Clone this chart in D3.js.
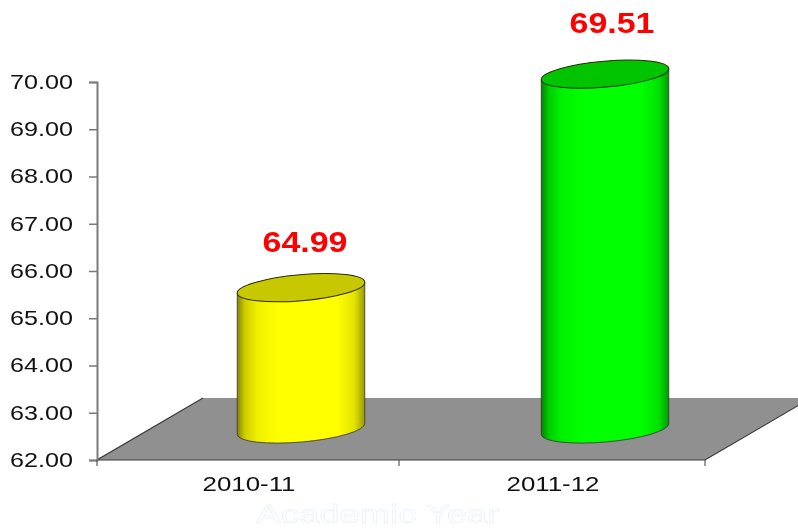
<!DOCTYPE html>
<html>
<head>
<meta charset="utf-8">
<script src="https://cdn.jsdelivr.net/npm/d3@7"></script>
<style>
  html, body { margin: 0; padding: 0; background: #fff; }
  svg { display: block; filter: blur(0.4px); }
</style>
</head>
<body>
<div id="chart"></div>
<script>
const years = ["2010-11", "2011-12"]
const values = [64.99, 69.51]
const bodyColours = ["#ffff00", "#00ff00"]
const edgeColours = ["#6f6f00", "#006f00"]
const topColours = ["#c8c800", "#00c400"]
const yTicks = [62, 63, 64, 65, 66, 67, 68, 69, 70]
const axisTitle = "Academic Year"

const width = 798
const height = 529
const plot = { left: 97, right: 705, top: 82, bottom: 460 }
// floor depth, the cylinders stand half way back on it
const depth = { x: 106, y: 62 }
const cyl = { rx: 64, ry: 13, tilt: 5 }
// value labels sit a little unevenly in the original
const labelNudge = [{ dx: 4, dy: -36 }, { dx: 7, dy: -41 }]

const svg = d3.select("#chart")
    .append("svg")
    .attr("width", width)
    .attr("height", height)
    .attr("viewBox", "0 0 " + width + " " + height)
    .style("font-family", "'Liberation Sans', Arial, sans-serif")

const x = d3.scaleBand().domain(years).range([plot.left, plot.right])
const y = d3.scaleLinear().domain([62, 70]).range([plot.bottom, plot.top])

const defs = svg.append("defs")
years.forEach((yr, i) => {
    const mix = d3.interpolateRgb(edgeColours[i], bodyColours[i])
    const grad = defs.append("linearGradient")
        .attr("id", "body" + i)
        .attr("x1", 0).attr("x2", 1).attr("y1", 0).attr("y2", 0)
    grad.append("stop").attr("offset", 0).attr("stop-color", mix(0.15))
    grad.append("stop").attr("offset", 0.06).attr("stop-color", mix(0.65))
    grad.append("stop").attr("offset", 0.16).attr("stop-color", mix(0.9))
    grad.append("stop").attr("offset", 0.32).attr("stop-color", bodyColours[i])
    grad.append("stop").attr("offset", 0.78).attr("stop-color", bodyColours[i])
    grad.append("stop").attr("offset", 0.92).attr("stop-color", mix(0.8))
    grad.append("stop").attr("offset", 1).attr("stop-color", mix(0.3))
})

// floor
const floor = d3.path()
floor.moveTo(plot.left, plot.bottom)
floor.lineTo(plot.left + depth.x, plot.bottom - depth.y)
floor.lineTo(plot.right + depth.x, plot.bottom - depth.y)
floor.lineTo(plot.right, plot.bottom)
floor.closePath()
svg.append("path").attr("d", floor.toString()).attr("fill", "#909090")

svg.append("path")
    .attr("d", d3.line()([
        [plot.left + depth.x, plot.bottom - depth.y],
        [plot.left, plot.bottom],
        [plot.right, plot.bottom],
        [plot.right + depth.x, plot.bottom - depth.y],
    ]))
    .attr("fill", "none")
    .attr("stroke", "#3a3a3a")
    .attr("stroke-width", 1.2)

// axes
const yAxis = svg.append("g")
    .attr("transform", "translate(" + plot.left + ",0)")
    .call(d3.axisLeft(y).tickValues(yTicks).tickFormat(d3.format(".2f")).tickSize(8).tickPadding(24))
yAxis.select(".domain").attr("stroke", "#7a7a7a").attr("stroke-width", 2)
yAxis.selectAll(".tick line").attr("stroke", "#7a7a7a").attr("stroke-width", 1.5)
yAxis.selectAll("text")
    .attr("font-size", 21)
    .attr("fill", "#111")
    .attr("text-anchor", "start")
    .attr("x", -87)
    .attr("dy", "0.3em")
    .attr("textLength", 63)
    .attr("lengthAdjust", "spacingAndGlyphs")

const xAxis = svg.append("g")
    .attr("transform", "translate(0," + plot.bottom + ")")
    .call(d3.axisBottom(x).tickFormat((d) => d).tickSize(0).tickPadding(16))
xAxis.select(".domain").remove()
xAxis.selectAll("text")
    .attr("font-size", 21)
    .attr("fill", "#111")
    .attr("textLength", 93)
    .attr("lengthAdjust", "spacingAndGlyphs")

svg.append("g")
    .selectAll("line")
    .data([plot.left, (plot.left + plot.right) / 2 - 2, plot.right])
    .enter()
    .append("line")
    .attr("x1", (d) => d)
    .attr("x2", (d) => d)
    .attr("y1", plot.bottom)
    .attr("y2", plot.bottom + 6)
    .attr("stroke", "#555")
    .attr("stroke-width", 1.2)

// cylinders
const tiltRad = cyl.tilt * Math.PI / 180
const ex = cyl.rx * Math.cos(tiltRad)
const ey = cyl.rx * Math.sin(tiltRad)

const bars = svg.append("g")
    .selectAll("g")
    .data(years.map((yr, i) => ({ yr: yr, value: values[i], i: i })))
    .enter()
    .append("g")
    .attr("transform", (d) =>
        "translate(" + (x(d.yr) + x.bandwidth() / 2 + depth.x / 2 - 1) + "," + (-depth.y / 2) + ")")

bars.append("path")
    .attr("d", (d) => {
        const top = y(d.value)
        const base = y(62)
        return "M" + (-ex) + "," + (top + ey) +
            "L" + (-ex) + "," + (base + ey) +
            "A" + cyl.rx + "," + cyl.ry + " " + (-cyl.tilt) + " 0 0 " + ex + "," + (base - ey) +
            "L" + ex + "," + (top - ey) + "Z"
    })
    .attr("fill", (d) => "url(#body" + d.i + ")")
    .attr("stroke", "#333")
    .attr("stroke-width", 0.8)

bars.append("ellipse")
    .attr("rx", cyl.rx)
    .attr("ry", cyl.ry)
    .attr("transform", (d) => "translate(0," + y(d.value) + ") rotate(" + (-cyl.tilt) + ")")
    .attr("fill", (d) => topColours[d.i])
    .attr("stroke", "#2a2a00")
    .attr("stroke-width", 1)

bars.append("text")
    .attr("x", (d) => labelNudge[d.i].dx)
    .attr("y", (d) => y(d.value) + labelNudge[d.i].dy)
    .attr("text-anchor", "middle")
    .attr("font-size", 30)
    .attr("font-weight", "bold")
    .attr("fill", "#ff0000")
    .attr("textLength", 85)
    .attr("lengthAdjust", "spacingAndGlyphs")
    .text((d) => d3.format(".2f")(d.value))

// axis title is white with only a faint fringe in the original
svg.append("text")
    .attr("x", 378)
    .attr("y", 523)
    .attr("text-anchor", "middle")
    .attr("font-size", 26)
    .attr("fill", "#ffffff")
    .attr("stroke", "#e4eff7")
    .attr("stroke-width", 0.5)
    .attr("textLength", 243)
    .attr("lengthAdjust", "spacingAndGlyphs")
    .text(axisTitle)
</script>
</body>
</html>
